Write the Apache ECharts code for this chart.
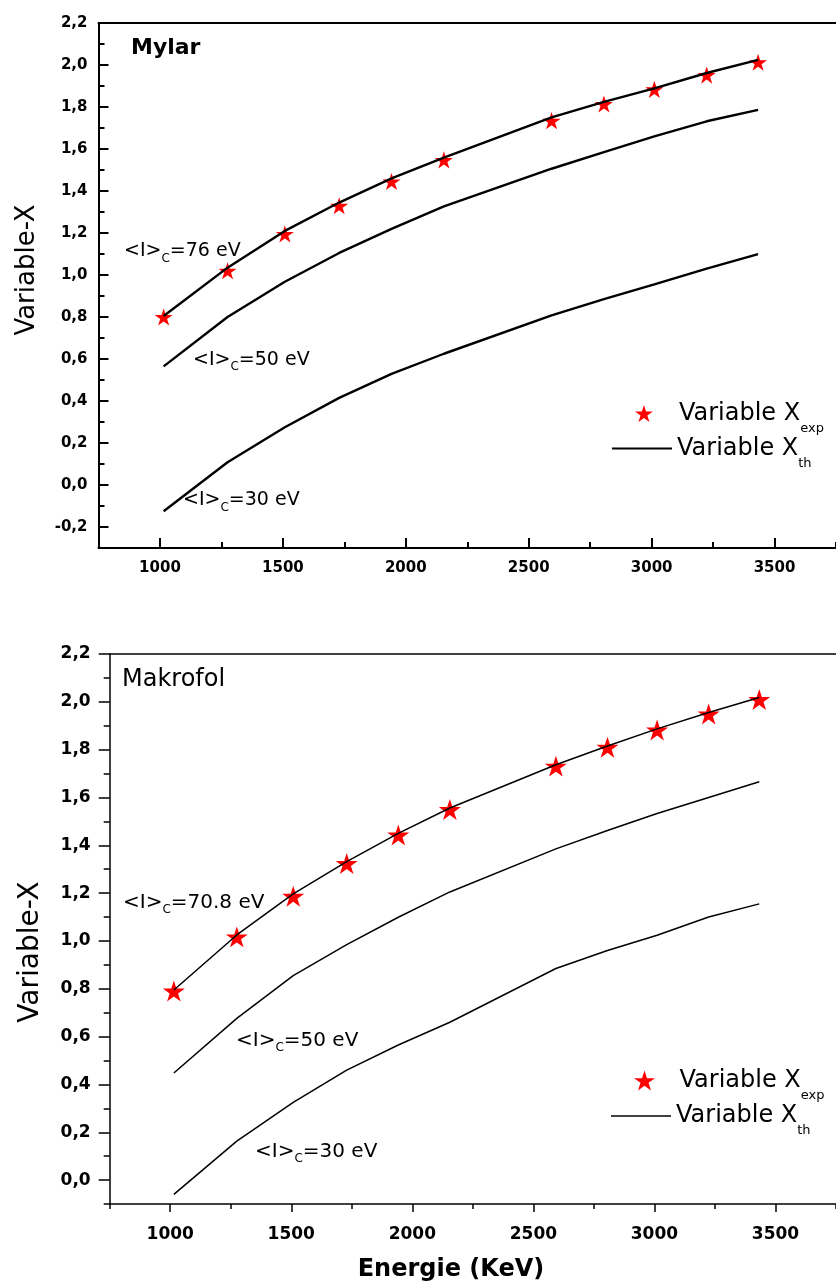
<!DOCTYPE html>
<html><head><meta charset="utf-8">
<script src="https://cdn.jsdelivr.net/npm/echarts@6/dist/echarts.min.js"></script>
<style>html,body{margin:0;padding:0;background:#fff}#c{width:836px;height:1285px}</style>
</head><body><div id="c"></div><script>
// ---- data ----
const energies = [1015, 1275, 1508, 1729, 1942, 2155, 2593, 2806, 3011, 3224, 3433];
// Mylar
const mylarExp  = [0.80, 1.02, 1.195, 1.33, 1.445, 1.548, 1.735, 1.814, 1.884, 1.952, 2.013];
const mylarTh76 = [0.805, 1.035, 1.21, 1.345, 1.46, 1.559, 1.751, 1.824, 1.889, 1.962, 2.024];
const mylarTh50 = [0.565, 0.80, 0.968, 1.105, 1.22, 1.327, 1.506, 1.585, 1.66, 1.732, 1.786];
const mylarTh30 = [-0.125, 0.108, 0.275, 0.415, 0.529, 0.625, 0.808, 0.885, 0.955, 1.03, 1.099];
// Makrofol
const makExp    = [0.791, 1.017, 1.187, 1.324, 1.443, 1.550, 1.731, 1.810, 1.882, 1.949, 2.010];
const makTh708  = [0.795, 1.025, 1.197, 1.332, 1.45, 1.556, 1.737, 1.815, 1.887, 1.955, 2.018];
const makTh50   = [0.448, 0.676, 0.855, 0.985, 1.099, 1.205, 1.385, 1.462, 1.533, 1.60, 1.666];
const makTh30   = [-0.06, 0.163, 0.325, 0.46, 0.565, 0.66, 0.885, 0.96, 1.024, 1.10, 1.155];
// ticks
const xMajor = [1000, 1500, 2000, 2500, 3000, 3500];
const xMinor = [750, 1250, 1750, 2250, 2750, 3250, 3750];
const yMajorTop = [-0.2, 0, 0.2, 0.4, 0.6, 0.8, 1.0, 1.2, 1.4, 1.6, 1.8, 2.0, 2.2];
const yMinorTop = [-0.3, -0.1, 0.1, 0.3, 0.5, 0.7, 0.9, 1.1, 1.3, 1.5, 1.7, 1.9, 2.1];
const yMajorBot = [0, 0.2, 0.4, 0.6, 0.8, 1.0, 1.2, 1.4, 1.6, 1.8, 2.0, 2.2];
const yMinorBot = [-0.1, 0.1, 0.3, 0.5, 0.7, 0.9, 1.1, 1.3, 1.5, 1.7, 1.9, 2.1];

const FONT = 'DejaVu Sans';
const STAR = 'path://M50,0 L61.23,34.55 L97.55,34.55 L68.17,55.9 L79.39,90.45 L50,69.1 L20.61,90.45 L31.83,55.9 L2.45,34.55 L38.77,34.55 Z';
const fmt = v => Number(v).toFixed(1).replace('.', ',');
const fmtX = v => String(Math.round(v));
const pair = (xs, ys) => xs.map((x, i) => [x, ys[i]]);

function xAxesFor(grid, lw, inside, majLen, minLen, labSize, labMargin) {
  return [
    {type:'value', gridIndex:grid, position:'bottom', min:750, max:3750,
     axisLine:{show:true, onZero:false, lineStyle:{color:'#000', width:lw}},
     axisTick:{show:true, inside:inside, length:majLen, customValues:xMajor, lineStyle:{color:'#000', width:lw}},
     axisLabel:{show:true, customValues:xMajor, formatter:fmtX, margin:labMargin, color:'#000', fontFamily:FONT, fontWeight:'bold', fontSize:labSize},
     splitLine:{show:false}},
    {type:'value', gridIndex:grid, position:'bottom', min:750, max:3750,
     axisLine:{show:false, onZero:false},
     axisTick:{show:true, inside:inside, length:minLen, customValues:xMinor, lineStyle:{color:'#000', width:lw}},
     axisLabel:{show:false}, splitLine:{show:false}},
    {type:'value', gridIndex:grid, position:'top', min:750, max:3750,
     axisLine:{show:true, onZero:false, lineStyle:{color:'#000', width:lw}},
     axisTick:{show:false}, axisLabel:{show:false}, splitLine:{show:false}}
  ];
}
function yAxesFor(grid, min, lw, inside, majLen, minLen, major, minor, labSize, labMargin) {
  return [
    {type:'value', gridIndex:grid, position:'left', min:min, max:2.2,
     axisLine:{show:true, onZero:false, lineStyle:{color:'#000', width:lw}},
     axisTick:{show:true, inside:inside, length:majLen, customValues:major, lineStyle:{color:'#000', width:lw}},
     axisLabel:{show:true, customValues:major, formatter:fmt, margin:labMargin, color:'#000', fontFamily:FONT, fontWeight:'bold', fontSize:labSize},
     splitLine:{show:false}},
    {type:'value', gridIndex:grid, position:'left', min:min, max:2.2,
     axisLine:{show:false, onZero:false},
     axisTick:{show:true, inside:inside, length:minLen, customValues:minor, lineStyle:{color:'#000', width:lw}},
     axisLabel:{show:false}, splitLine:{show:false}}
  ];
}

function legendRich(mainSize, subSize, pad) {
  return {
    m:{fontFamily:FONT, fontSize:mainSize, lineHeight:mainSize, color:'#000'},
    s:{fontFamily:FONT, fontSize:subSize, lineHeight:subSize, color:'#000', padding:[pad,0,0,0]}
  };
}
const legFmt = n => n === 'Variable X exp' ? '{m|Variable X}{s|exp}' : '{m|Variable X}{s|th}';
function legendStar(left, top, size) {
  return {data:['Variable X exp'], left:left, top:top, orient:'vertical', padding:0,
    itemWidth:60, itemHeight:size, selectedMode:false, formatter:legFmt,
    itemStyle:{color:'#ff0000', opacity:1},
    textStyle:{rich:legendRich(24, 13, 30)}};
}
function legendLine(left, top, lineW) {
  return {data:['Variable X th'], left:left, top:top, orient:'vertical', padding:0,
    icon:'rect', itemWidth:60, itemHeight:lineW, selectedMode:false, formatter:legFmt,
    itemStyle:{color:'#000', opacity:1, borderWidth:0},
    textStyle:{rich:legendRich(24, 13, 30)}};
}

function anno(x, y, label, size) {
  return {type:'text', x:x, y:y, style:{
    text:'{m|<I>}{s|C}{m|=' + label + '}', verticalAlign:'middle', align:'left', fill:'#000',
    rich:{m:{fontFamily:FONT, fontSize:size, lineHeight:size, fill:'#000'},
          s:{fontFamily:FONT, fontSize:12, lineHeight:12, fill:'#000', padding:[14,0,0,0]}}}};
}

const lineS = (name, xi, yi, ys, w) => ({name:name, type:'line', xAxisIndex:xi, yAxisIndex:yi,
  data:pair(energies, ys), symbol:'none', smooth:false, z:3, itemStyle:{color:'#000'}, lineStyle:{color:'#000', width:w}});
const starS = (name, xi, yi, ys, size) => ({name:name, type:'scatter', xAxisIndex:xi, yAxisIndex:yi,
  data:pair(energies, ys), symbol:STAR, symbolKeepAspect:true, symbolSize:size, z:2, itemStyle:{color:'#ff0000', opacity:1}});

const option = {
  backgroundColor:'#fff',
  animation:false,
  grid:[
    {left:98.5, top:23, width:743.4, height:525},
    {left:109.7, top:654, width:743.3, height:550}
  ],
  xAxis:[].concat(
    xAxesFor(0, 2, true, 10, 6, 15, 13),
    xAxesFor(1, 1.5, false, 8, 5, 17, 22)
  ),
  yAxis:[].concat(
    yAxesFor(0, -0.3, 2, true, 10, 6, yMajorTop, yMinorTop, 15, 11),
    yAxesFor(1, -0.1, 1.5, false, 11, 6, yMajorBot, yMinorBot, 17, 19)
  ),
  legend:[
    legendStar(635, 392, 17),
    legendLine(612, 427, 2.2),
    legendStar(634, 1059, 20),
    legendLine(611, 1094.5, 1.5)
  ],
  series:[
    starS('Variable X exp', 0, 0, mylarExp, 18),
    lineS('Variable X th', 0, 0, mylarTh76, 2.4),
    lineS('Variable X th', 0, 0, mylarTh50, 2.4),
    lineS('Variable X th', 0, 0, mylarTh30, 2.4),
    starS('Variable X exp', 3, 2, makExp, 22),
    lineS('Variable X th', 3, 2, makTh708, 1.5),
    lineS('Variable X th', 3, 2, makTh50, 1.5),
    lineS('Variable X th', 3, 2, makTh30, 1.5)
  ],
  graphic:[
    {type:'text', x:131, y:48, style:{text:'Mylar', font:'bold 22px "DejaVu Sans"', fill:'#000', verticalAlign:'middle'}},
    {type:'text', x:122, y:679.5, style:{text:'Makrofol', font:'24px "DejaVu Sans"', fill:'#000', verticalAlign:'middle'}},
    anno(124, 251.5, '76 eV', 19),
    anno(193, 360, '50 eV', 19),
    anno(183, 500.5, '30 eV', 19),
    anno(123, 902.5, '70.8 eV', 20),
    anno(236, 1040.5, '50 eV', 20),
    anno(255, 1152, '30 eV', 20),
    {type:'text', x:27, y:270, rotation:Math.PI/2, style:{text:'Variable-X', font:'26px "DejaVu Sans"', fill:'#000', align:'center', verticalAlign:'middle'}},
    {type:'text', x:31, y:952, rotation:Math.PI/2, style:{text:'Variable-X', font:'28px "DejaVu Sans"', fill:'#000', align:'center', verticalAlign:'middle'}},
    {type:'text', x:451, y:1270, style:{text:'Energie (KeV)', font:'bold 24px "DejaVu Sans"', fill:'#000', align:'center', verticalAlign:'middle'}}
  ]
};
const chart = echarts.init(document.getElementById('c'), null, {renderer:'canvas'});
chart.setOption(option);
</script></body></html>
